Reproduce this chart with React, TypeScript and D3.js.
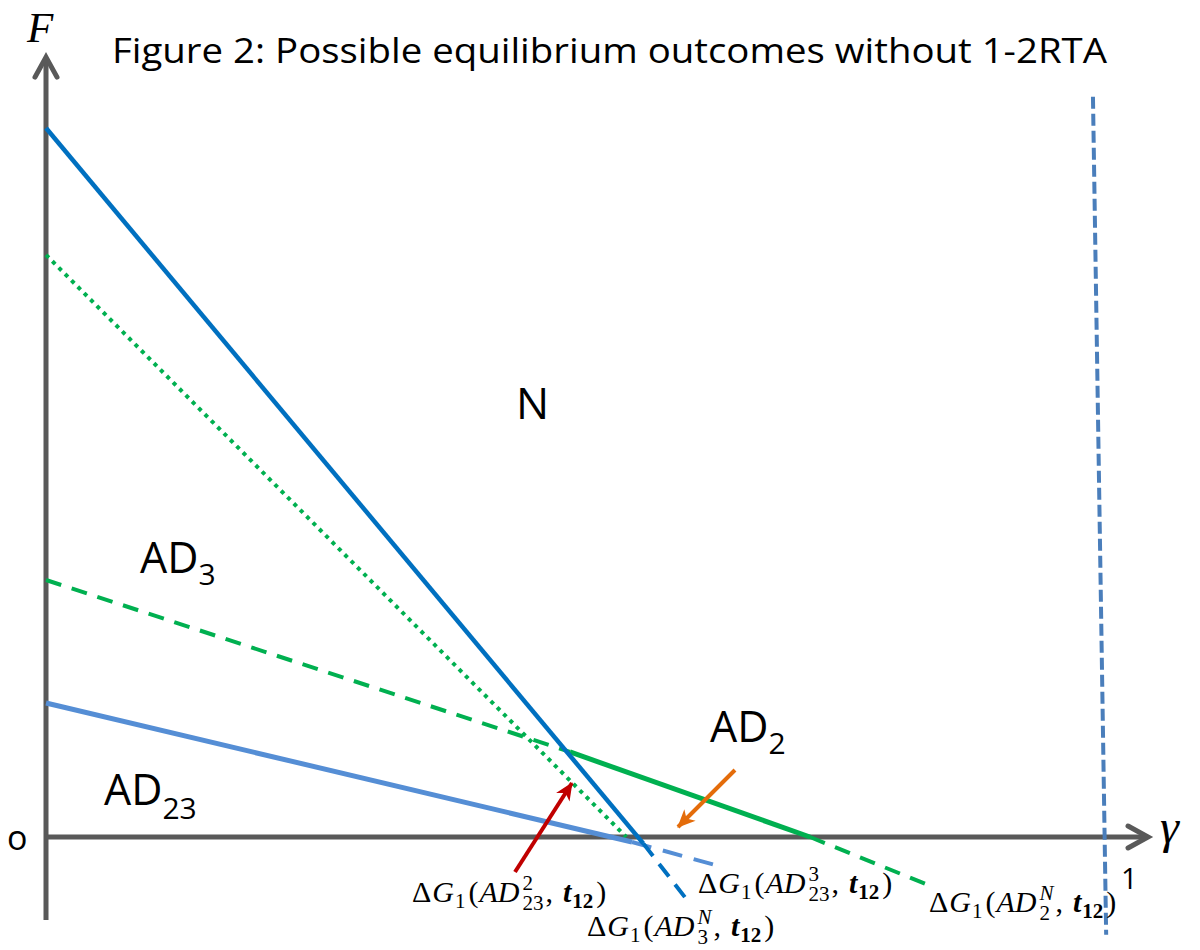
import React, { useEffect, useRef } from 'react';
import * as d3 from 'd3';

type Pt = [number, number];

// boundary lines, [gamma, F]
const nSolid: Pt[] = [[0, 1.0], [0.565, -0.009]];
const nDashed: Pt[] = [[0.565, -0.009], [0.6045, -0.085]];
const greenDotted: Pt[] = [[0, 0.821], [0.549, 0.0]];
const greenDashedLeft: Pt[] = [[0, 0.3625], [0.4957, 0.12]];
const greenSolid: Pt[] = [[0.4957, 0.12], [0.7228, 0.0]];
const greenDashedRight: Pt[] = [[0.7228, 0.0], [0.8392, -0.0705]];
const lightSolid: Pt[] = [[0, 0.189], [0.5544, -0.007]];
const lightDashed: Pt[] = [[0.5544, -0.007], [0.6329, -0.0395]];
const gammaOne: Pt[] = [[0.9905, 1.044], [1.003, -0.138]];

// annotation arrows, [tail, tip]
const redArrow: Pt[] = [[0.4437, -0.0494], [0.4976, 0.0762]];
const orangeArrow: Pt[] = [[0.6518, 0.0945], [0.5979, 0.0141]];

// axis extents
const xAxisEnd = 1.0426;
const yAxisRange: Pt = [-0.117, 1.1];

interface MathLabel {
  sup: string;
  supItalic: boolean;
  sub: string;
  x: number;
  y: number;
}

const mathLabels: MathLabel[] = [
  { sup: '2', supItalic: false, sub: '23', x: 412, y: 902 },
  { sup: '3', supItalic: false, sub: '23', x: 698, y: 893 },
  { sup: 'N', supItalic: true, sub: '3', x: 587, y: 936 },
  { sup: 'N', supItalic: true, sub: '2', x: 929, y: 912 },
];

const MathText: React.FC<MathLabel> = ({ sup, supItalic, sub, x, y }) => {
  const ref = useRef<SVGTextElement | null>(null);
  useEffect(() => {
    if (!ref.current) return;
    const fs = 30;
    const small = fs * 0.7;
    const el = d3.select(ref.current);
    el.selectAll('*').remove();
    const add = (t: string, o: { style?: string; weight?: string; size?: number; dx?: number; dy?: number } = {}) =>
      el
        .append('tspan')
        .text(t)
        .attr('font-style', o.style || 'normal')
        .attr('font-weight', o.weight || 'normal')
        .attr('font-size', o.size || fs)
        .attr('dx', o.dx || 0)
        .attr('dy', o.dy || 0);

    const lo = fs * 0.2;
    const hi = fs * 0.4;
    add('Δ');
    add('G', { style: 'italic', dx: 1 });
    add('1', { size: small, dy: lo, dx: 1 });
    add('(', { dy: -lo, dx: 3 });
    add('AD', { style: 'italic', dx: 1 });
    const s1 = add(sup, { style: supItalic ? 'italic' : 'normal', size: small, dy: -hi, dx: 3 });
    const supW = (s1.node() as SVGTextContentElement).getComputedTextLength();
    const s2 = add(sub, { size: small, dx: -supW, dy: hi + lo + 2 });
    const subW = (s2.node() as SVGTextContentElement).getComputedTextLength();
    add(',', { dy: -lo - 2, dx: Math.max(0, supW - subW) + 2 });
    add('t', { style: 'italic', weight: 'bold', dx: 10 });
    add('12', { weight: 'bold', size: small, dy: lo, dx: 1 });
    add(')', { dy: -lo, dx: 3 });
  }, [sup, supItalic, sub]);
  return <text ref={ref} x={x} y={y} fontFamily="'Liberation Serif', serif" fill="#000" />;
};

const App: React.FC = () => {
  const width = 1200;
  const height = 950;
  const x = d3.scaleLinear().domain([0, 1]).range([46, 1103]);
  const y = d3.scaleLinear().domain([0, 1]).range([837, 128]);
  const line = d3
    .line<Pt>()
    .x((d) => x(d[0]))
    .y((d) => y(d[1]));

  const sans = "'Open Sans', 'Liberation Sans', sans-serif";
  const serif = "'Liberation Serif', serif";
  const axisColor = '#595959';

  const x0 = x(0);
  const y0 = y(0);
  const xTip = x(xAxisEnd);
  const yTip = y(yAxisRange[1]);

  return (
    <svg
      width={width}
      height={height}
      style={{ position: 'absolute', left: 0, top: 0, display: 'block', background: '#fff' }}
    >
      <defs>
        <marker id="headRed" viewBox="-20 -10 22 20" refX={0} refY={0} markerWidth={22} markerHeight={20} markerUnits="userSpaceOnUse" orient="auto">
          <path d="M1,0 L-17,-8 L-12,0 L-17,8 Z" fill="#C00000" />
        </marker>
        <marker id="headOrange" viewBox="-20 -10 22 20" refX={0} refY={0} markerWidth={22} markerHeight={20} markerUnits="userSpaceOnUse" orient="auto">
          <path d="M1,0 L-17,-8 L-12,0 L-17,8 Z" fill="#E46C0A" />
        </marker>
      </defs>

      {/* axes */}
      <line x1={x0} y1={y(yAxisRange[0])} x2={x0} y2={yTip + 2} stroke={axisColor} strokeWidth={5} />
      <path
        d={`M${x0 - 11},${yTip + 20} L${x0},${yTip} L${x0 + 11},${yTip + 20}`}
        fill="none"
        stroke={axisColor}
        strokeWidth={5}
        strokeLinecap="round"
      />
      <line x1={x0} y1={y0} x2={xTip - 2} y2={y0} stroke={axisColor} strokeWidth={5} />
      <path
        d={`M${xTip - 20},${y0 - 11} L${xTip},${y0} L${xTip - 20},${y0 + 11}`}
        fill="none"
        stroke={axisColor}
        strokeWidth={5}
        strokeLinecap="round"
      />

      {/* boundaries */}
      <path d={line(gammaOne)!} fill="none" stroke="#4A7EBB" strokeWidth={4} strokeDasharray="12 5" />
      <path d={line(greenDotted)!} fill="none" stroke="#00B050" strokeWidth={4} strokeDasharray="4 5" />
      <path d={line(greenDashedLeft)!} fill="none" stroke="#00B050" strokeWidth={4} strokeDasharray="16 11" />
      <path d={line(greenSolid)!} fill="none" stroke="#00B050" strokeWidth={5} />
      <path d={line(greenDashedRight)!} fill="none" stroke="#00B050" strokeWidth={4} strokeDasharray="16 11" />
      <path d={line(lightSolid)!} fill="none" stroke="#558ED5" strokeWidth={5} />
      <path d={line(lightDashed)!} fill="none" stroke="#558ED5" strokeWidth={4} strokeDasharray="20 12" />
      <path d={line(nSolid)!} fill="none" stroke="#0070C0" strokeWidth={4.5} />
      <path d={line(nDashed)!} fill="none" stroke="#0070C0" strokeWidth={4} strokeDasharray="16 10" />

      {/* arrows */}
      <path d={line(redArrow)!} fill="none" stroke="#C00000" strokeWidth={4} markerEnd="url(#headRed)" />
      <path d={line(orangeArrow)!} fill="none" stroke="#E46C0A" strokeWidth={4} markerEnd="url(#headOrange)" />

      {/* texts */}
      <text x={112} y={63} fontFamily={sans} fontSize={34} textLength={995} lengthAdjust="spacingAndGlyphs">
        Figure 2: Possible equilibrium outcomes without 1-2RTA
      </text>
      <text x={27} y={42} fontFamily={serif} fontStyle="italic" fontSize={43}>
        F
      </text>
      <text x={1160} y={843} fontFamily={serif} fontStyle="italic" fontSize={48}>
        γ
      </text>
      <text x={1121} y={889} fontFamily={sans} fontSize={29}>
        1
      </text>
      <text x={7} y={850} fontFamily={sans} fontSize={34}>
        o
      </text>
      <text x={516} y={419} fontFamily={sans} fontSize={44}>
        N
      </text>
      <text x={140} y={573} fontFamily={sans} fontSize={43}>
        AD<tspan fontSize={30} dy={12}>3</tspan>
      </text>
      <text x={104} y={805} fontFamily={sans} fontSize={43}>
        AD<tspan fontSize={30} dy={14}>23</tspan>
      </text>
      <text x={710} y={742} fontFamily={sans} fontSize={43}>
        AD<tspan fontSize={30} dy={12}>2</tspan>
      </text>

      {mathLabels.map((m, i) => (
        <MathText key={i} {...m} />
      ))}
    </svg>
  );
};

export default App;
